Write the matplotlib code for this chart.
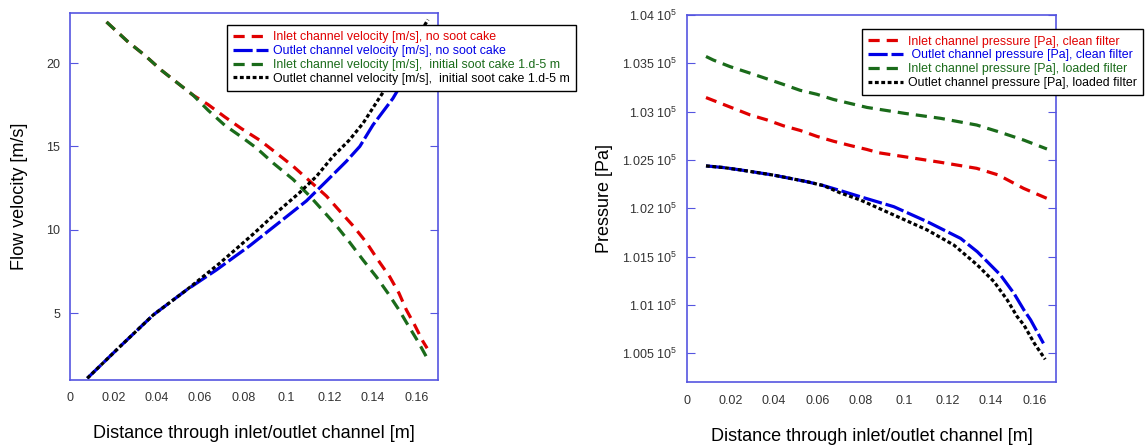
import matplotlib.pyplot as plt
from matplotlib.ticker import FuncFormatter, MultipleLocator

plt.rcParams['font.family'] = ['Liberation Sans', 'DejaVu Sans']
plt.rcParams['mathtext.default'] = 'regular'

# left panel: flow velocity [m/s]
x_in_clean = [0.0169, 0.0269, 0.0346, 0.0423, 0.05, 0.0569, 0.0638, 0.0715, 0.0792, 0.0877, 0.0954,
              0.1031, 0.1108, 0.1185, 0.1246, 0.1308, 0.1369, 0.1423, 0.1477, 0.152, 0.1554, 0.1592,
              0.1631, 0.165]
v_in_clean = [22.46, 21.26, 20.46, 19.56, 18.77, 18.07, 17.51, 16.77, 16.07, 15.37, 14.6,
              13.81, 12.92, 12.02, 11.13, 10.24, 9.25, 8.19, 7.19, 6.2, 5.2, 4.3,
              3.3, 2.9]
x_in_soot = [0.0169, 0.0269, 0.0346, 0.0423, 0.05, 0.0569, 0.0638, 0.0715, 0.0792, 0.0862, 0.0939,
             0.1031, 0.1108, 0.117, 0.1231, 0.1292, 0.1354, 0.1415, 0.1469, 0.152, 0.1561, 0.1608,
             0.1646]
v_in_soot = [22.46, 21.26, 20.46, 19.56, 18.77, 18.07, 17.17, 16.27, 15.57, 14.9, 14.0,
             13.02, 12.02, 11.13, 10.24, 9.25, 8.19, 7.19, 6.2, 5.2, 4.3, 3.3,
             2.4]
x_out_clean = [0.008, 0.0231, 0.0385, 0.0539, 0.0677, 0.0831, 0.0985, 0.1092, 0.1185, 0.1277, 0.1339,
               0.14, 0.1492, 0.157, 0.1655]
v_out_clean = [1.1, 3.0, 4.9, 6.4, 7.6, 9.05, 10.63, 11.73, 12.92, 14.11, 15.0,
               16.29, 17.88, 19.6, 22.0]
x_out_soot = [0.008, 0.0231, 0.0385, 0.0539, 0.0692, 0.0846, 0.0954, 0.106, 0.1139, 0.1215, 0.1292,
              0.1354, 0.1423, 0.15, 0.158, 0.1654]
v_out_soot = [1.1, 3.0, 4.9, 6.4, 8.0, 9.74, 11.03, 12.22, 13.21, 14.4, 15.4,
              16.39, 17.78, 19.3, 21.0, 22.6]

# right panel: pressure [Pa]
x_p_in_clean = [0.0086, 0.0136, 0.0213, 0.029, 0.0367, 0.0443, 0.052, 0.0597, 0.0674, 0.0751, 0.0828,
                0.0882, 0.1001, 0.1168, 0.1334, 0.1434, 0.155, 0.1658]
p_in_clean = [103146, 103102, 103034, 102966, 102915, 102854, 102806, 102745, 102694, 102650, 102609,
              102575, 102534, 102476, 102414, 102345, 102207, 102103]
x_p_in_loaded = [0.0086, 0.012, 0.0197, 0.029, 0.0367, 0.0443, 0.052, 0.0597, 0.0674, 0.0751, 0.0828,
                 0.1001, 0.1168, 0.1334, 0.1434, 0.155, 0.1658]
p_in_loaded = [103571, 103534, 103466, 103398, 103340, 103282, 103221, 103180, 103126, 103085, 103044,
               102983, 102931, 102862, 102793, 102707, 102614]
x_p_out_clean = [0.0086, 0.0166, 0.0243, 0.032, 0.0397, 0.0474, 0.0551, 0.0628, 0.0705, 0.0798, 0.0952,
                 0.1106, 0.126, 0.1337, 0.1444, 0.1506, 0.1552, 0.1583, 0.1642]
p_out_clean = [102439, 102422, 102398, 102371, 102344, 102310, 102276, 102235, 102184, 102120, 102017,
               101862, 101689, 101551, 101310, 101120, 100948, 100845, 100603]
x_p_out_loaded = [0.0086, 0.0166, 0.0243, 0.032, 0.0397, 0.0474, 0.0551, 0.0628, 0.0705, 0.0798, 0.0952,
                  0.1106, 0.1229, 0.1337, 0.1414, 0.1475, 0.1521, 0.1552, 0.16, 0.165]
p_out_loaded = [102439, 102422, 102398, 102371, 102344, 102310, 102276, 102235, 102160, 102086, 101931,
                101776, 101620, 101414, 101241, 101052, 100879, 100793, 100603, 100438]

red, blue, green = '#e00000', '#0000e6', '#1a6b1a'
frame = '#5555e0'

fig = plt.figure(figsize=(11.45, 4.47), dpi=100)
ax1 = fig.add_axes([0.0611, 0.150, 0.3214, 0.821])
ax2 = fig.add_axes([0.6003, 0.1447, 0.322, 0.8217])

lw = 2.3
ax1.plot(x_in_clean, v_in_clean, color=red, lw=lw, dashes=(3.5, 2.2),
         label='Inlet channel velocity [m/s], no soot cake')
ax1.plot(x_out_clean, v_out_clean, color=blue, lw=lw, dashes=(6, 1.2),
         label='Outlet channel velocity [m/s], no soot cake')
ax1.plot(x_in_soot, v_in_soot, color=green, lw=lw, dashes=(3.5, 2.2),
         label='Inlet channel velocity [m/s],  initial soot cake 1.d-5 m')
ax1.plot(x_out_soot, v_out_soot, color='black', lw=lw, dashes=(1.2, 0.8),
         label='Outlet channel velocity [m/s],  initial soot cake 1.d-5 m')

ax2.plot(x_p_in_clean, p_in_clean, color=red, lw=lw, dashes=(3.5, 2.2),
         label='Inlet channel pressure [Pa], clean filter')
ax2.plot(x_p_out_clean, p_out_clean, color=blue, lw=lw, dashes=(6, 1.2),
         label=' Outlet channel pressure [Pa], clean filter')
ax2.plot(x_p_in_loaded, p_in_loaded, color=green, lw=lw, dashes=(3.5, 2.2),
         label='Inlet channel pressure [Pa], loaded filter')
ax2.plot(x_p_out_loaded, p_out_loaded, color='black', lw=lw, dashes=(1.2, 0.8),
         label='Outlet channel pressure [Pa], loaded filter')

ax1.set_xlim(0, 0.17)
ax1.set_ylim(1, 23)
ax1.yaxis.set_major_locator(MultipleLocator(5))
ax1.set_ylabel('Flow velocity [m/s]', fontsize=13, labelpad=13)

ax2.set_xlim(0, 0.17)
ax2.set_ylim(100200, 104000)
ax2.yaxis.set_major_locator(MultipleLocator(500))
ax2.yaxis.set_major_formatter(FuncFormatter(lambda v, p: '%g 10$^5$' % (v / 1e5)))
ax2.set_ylabel('Pressure [Pa]', fontsize=13, labelpad=7)

for ax in (ax1, ax2):
    ax.xaxis.set_major_locator(MultipleLocator(0.02))
    ax.xaxis.set_major_formatter(FuncFormatter(lambda v, p: '%g' % round(v, 3)))
    ax.set_xlabel('Distance through inlet/outlet channel [m]', fontsize=13, labelpad=15)
    for s in ax.spines.values():
        s.set_color(frame)
        s.set_linewidth(1.2)
    ax.tick_params(axis='y', direction='in', left=True, right=True, length=6, pad=7,
                   color=frame, labelsize=9, labelcolor='#333333')
    ax.tick_params(axis='x', length=0, pad=9, labelsize=9, labelcolor='#333333')

leg_kw = dict(loc='upper left', fontsize=8.9, frameon=True, fancybox=False, framealpha=1,
              edgecolor='black', handlelength=2.8, labelspacing=0.15, borderpad=0.5,
              handletextpad=0.45, borderaxespad=0)
leg1 = ax1.legend(bbox_to_anchor=(0.426, 0.967), **leg_kw)
leg2 = ax2.legend(bbox_to_anchor=(0.473, 0.961), **leg_kw)
for leg in (leg1, leg2):
    leg.get_frame().set_linewidth(1.0)
    for t, c in zip(leg.get_texts(), [red, blue, green, 'black']):
        t.set_color(c)

fig.savefig('out.png', dpi=100)
